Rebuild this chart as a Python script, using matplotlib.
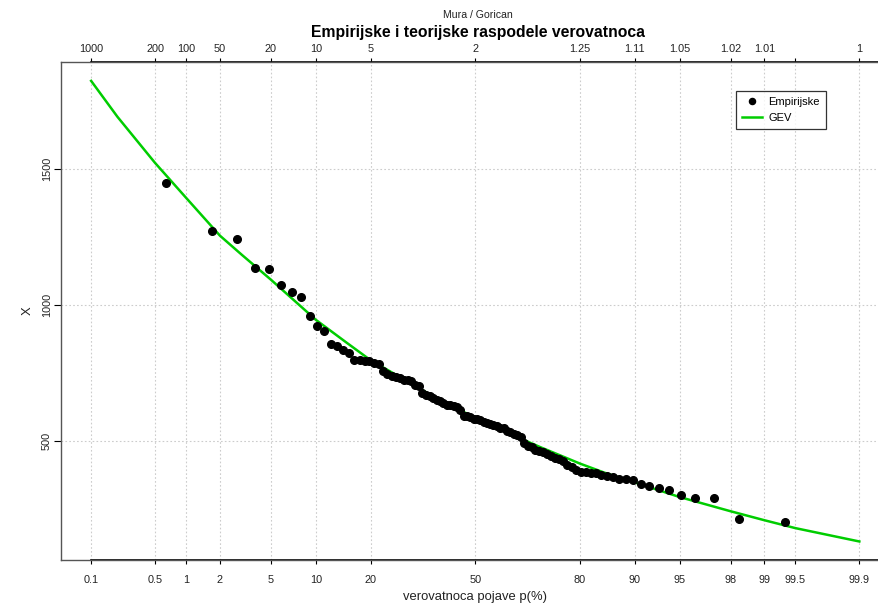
import numpy as np
import matplotlib
matplotlib.use('Agg')
import matplotlib.pyplot as plt
from matplotlib.transforms import blended_transform_factory
from statistics import NormalDist

plt.rcParams['font.family'] = ['Liberation Sans', 'DejaVu Sans']

# Empirijske vrednosti (sortirane opadajuce)
empirijske = [1447, 1270, 1243, 1135, 1131, 1072, 1047, 1030, 961, 924,
              903, 855, 851, 836, 825, 799, 799, 796, 793, 788,
              782, 756, 747, 739, 734, 730, 726, 723, 719, 706,
              701, 675, 670, 664, 657, 652, 646, 640, 634, 631,
              628, 625, 616, 594, 592, 588, 583, 580, 576, 572,
              568, 564, 560, 556, 550, 547, 539, 535, 528, 521,
              514, 492, 482, 477, 468, 464, 459, 452, 447, 440,
              435, 427, 414, 404, 394, 387, 386, 384, 383, 377,
              372, 368, 362, 360, 356, 344, 334, 329, 322, 304,
              293, 293, 215, 203]

# GEV kriva (procitano sa slike)
gev_p = [0.1, 0.2, 0.5, 1, 2, 3, 5, 10, 15, 20, 30, 40, 50, 60, 70, 80,
         85, 90, 95, 97, 98, 99, 99.5, 99.9]
gev_x = [1822, 1690, 1521, 1393, 1254, 1185, 1093, 945, 862, 797, 714, 642,
         587, 532, 478, 418, 385, 349, 295, 265, 243, 210, 181, 132]

# Ose
p_ticks = [0.1, 0.5, 1, 2, 5, 10, 20, 50, 80, 90, 95, 98, 99, 99.5, 99.9]
p_labels = ['0.1', '0.5', '1', '2', '5', '10', '20', '50', '80', '90', '95',
            '98', '99', '99.5', '99.9']
T_labels = ['1000', '200', '100', '50', '20', '10', '5', '2', '1.25', '1.11',
            '1.05', '1.02', '1.01', '', '1']
y_ticks = [500, 1000, 1500]

nd = NormalDist()
def z(p):
    return np.array([nd.inv_cdf(v / 100.0) for v in np.atleast_1d(p)])

# Cunnane plotting positions
n = len(empirijske)
rang = np.arange(1, n + 1)
p_emp = (rang - 0.4) / (n + 0.2) * 100

fig = plt.figure(figsize=(8.79, 6.07), dpi=100)
ax = fig.add_axes([0.0691, 0.0774, 0.9431, 0.8199])

zt = z(p_ticks)
for v in zt:
    ax.axvline(v, color='#cccccc', linestyle=(0, (1.5, 2)), linewidth=0.8, zorder=0)
for v in y_ticks:
    ax.axhline(v, color='#cccccc', linestyle=(0, (1.5, 2)), linewidth=0.8, zorder=0)

ax.plot(z(p_emp), empirijske, 'o', color='black', markersize=5.5,
        label='Empirijske', zorder=3)
ax.plot(z(gev_p), gev_x, color='#00CD00', linewidth=1.8, label='GEV', zorder=2)

ax.set_xlim(-3.3347, 3.3347)
ax.set_ylim(64, 1890)

ax.set_xticks(zt)
ax.set_xticklabels(p_labels)
ax.set_yticks(y_ticks)
ax.set_yticklabels([str(v) for v in y_ticks], rotation=90, va='center')
ax.tick_params(axis='x', length=3, width=0.8, pad=8, labelsize=7.8, colors='black',
               labelcolor='#222222')
ax.tick_params(axis='y', length=5, width=0.8, pad=1.5, labelsize=7.8,
               labelcolor='#222222')

sec = ax.secondary_xaxis('top')
sec.set_xticks(zt)
sec.set_xticklabels(T_labels)
sec.tick_params(length=3, width=0.8, pad=3, labelsize=7.8, labelcolor='#222222')
sec.spines['top'].set_visible(False)

for s in ax.spines.values():
    s.set_color('#555555')
    s.set_linewidth(1.0)

# crne linije ose izmedju prvog i poslednjeg podeoka
tr = blended_transform_factory(ax.transData, ax.transAxes)
ax.plot([zt[0], 3.5], [0, 0], color='black', linewidth=1.2, transform=tr, clip_on=False)
ax.plot([zt[0], 3.5], [1, 1], color='black', linewidth=1.2, transform=tr, clip_on=False)

ax.set_xlabel('verovatnoca pojave p(%)', fontsize=9.4, color='#222222', labelpad=4)
ax.set_ylabel('X', fontsize=9.4, color='#222222', labelpad=6)

fig.text(0.5435, 0.975, 'Mura / Gorican', ha='center', va='center', fontsize=7.6,
         color='#222222')
fig.text(0.5435, 0.947, 'Empirijske i teorijske raspodele verovatnoca', ha='center',
         va='center', fontsize=11.3, fontweight='bold', color='black')

leg = ax.legend(loc='upper left', bbox_to_anchor=(0.837, 0.850),
                bbox_transform=fig.transFigure, fontsize=8, frameon=True,
                fancybox=False, edgecolor='black', handlelength=1.8,
                borderpad=0.55, labelspacing=0.5, handletextpad=0.6,
                borderaxespad=0, markerscale=0.8)
leg.get_frame().set_linewidth(0.9)

fig.savefig('out.png', dpi=100)
